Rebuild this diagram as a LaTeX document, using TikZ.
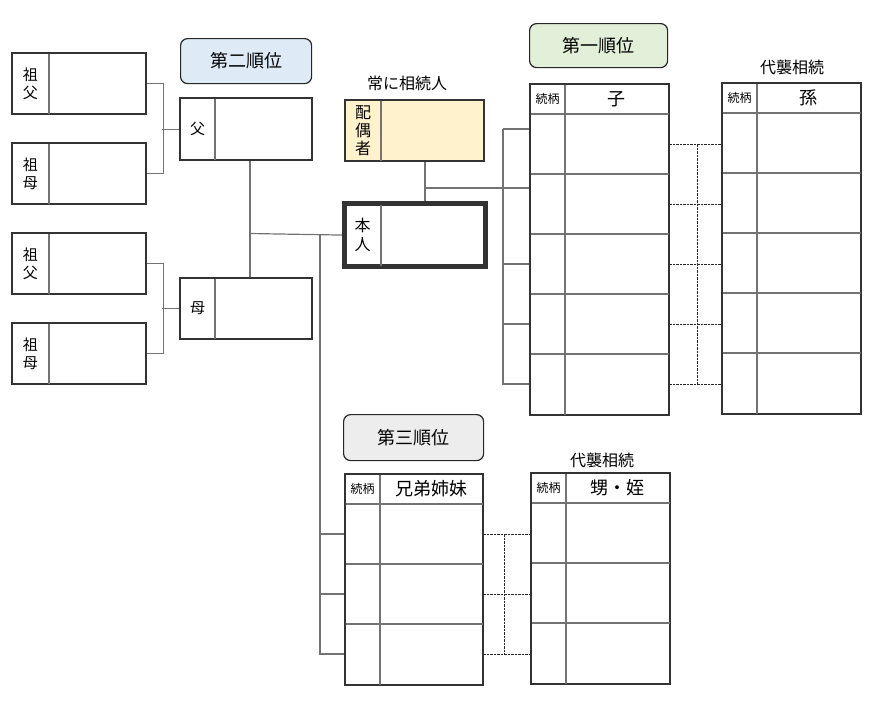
\documentclass[tikz,border=0pt]{standalone}
\usepackage{fontspec}
\setmainfont{Noto Sans CJK JP}
\usetikzlibrary{calc}

\definecolor{ao}{HTML}{DEEBF7}
\definecolor{midori}{HTML}{E2F0D9}
\definecolor{haiiro}{HTML}{EDEDED}
\definecolor{kiiro}{HTML}{FFF2CC}

\tikzset{
  waku/.style={draw=black!80, line width=1.3pt, inner sep=0pt, anchor=north west},
  honwaku/.style={waku, line width=3.2pt},
  sen/.style={draw=black!55, line width=1.2pt},
  tensen/.style={draw=black!85, dash pattern=on 2.5pt off 1pt, line width=1pt},
  juni/.style={draw=black!85, line width=1.2pt, rounded corners=7pt, inner sep=0pt,
    anchor=north west, font=\fontsize{18}{18}\selectfont},
  moji/.style={font=\fontsize{15}{17.5}\selectfont, align=center, inner sep=0pt},
  zokugara/.style={font=\fontsize{12}{12}\selectfont, inner sep=0pt},
  midashi/.style={font=\fontsize{18}{18}\selectfont, inner sep=0pt},
  komidashi/.style={font=\fontsize{16}{16}\selectfont, inner sep=0pt}
}

\begin{document}
\begin{tikzpicture}[x=1pt,y=-1pt]
\useasboundingbox (0,0) rectangle (872,702);

% 順位の見出し
\node[juni, fill=ao, minimum width=131, minimum height=45] (dai2) at (180,38) {第二順位};
\node[juni, fill=midori, minimum width=138, minimum height=44] (dai1) at (529,23) {第一順位};
\node[juni, fill=haiiro, minimum width=140, minimum height=46] (dai3) at (343,414) {第三順位};

% 祖父母
\node[waku, minimum width=133, minimum height=60] (sofu1) at (12,53) {};
\node[waku, minimum width=133, minimum height=60] (sobo1) at (12,143) {};
\node[waku, minimum width=133, minimum height=60] (sofu2) at (12,233) {};
\node[waku, minimum width=133, minimum height=60] (sobo2) at (12,323) {};
\foreach \n/\m in {sofu1/父, sobo1/母, sofu2/父, sobo2/母}{
  \draw[sen] ($(\n.north west)+(37,0)$) -- ($(\n.south west)+(37,0)$);
  \node[moji] (\n-m) at ($(\n.west)+(18.5,0)$) {祖\\\m};
}

% 父母
\node[waku, minimum width=131, minimum height=61] (chichi) at (180,98) {};
\node[waku, minimum width=131, minimum height=60] (haha) at (180,278) {};
\foreach \n/\m in {chichi/父, haha/母}{
  \draw[sen] ($(\n.north west)+(35,0)$) -- ($(\n.south west)+(35,0)$);
  \node[moji] (\n-m) at ($(\n.west)+(17.5,0)$) {\m};
}

% 配偶者・本人
\node[komidashi] (tsune) at (407,83) {常に相続人};
\node[waku, fill=kiiro, minimum width=138, minimum height=60] (haigu) at (345,100) {};
\draw[sen] ($(haigu.north west)+(36,0)$) -- ($(haigu.south west)+(36,0)$);
\node[moji, font=\fontsize{16}{18}\selectfont] (haigu-m) at ($(haigu.west)+(18,0)$) {配\\偶\\者};
\node[honwaku, minimum width=139, minimum height=61] (honnin) at (344,203) {};
\draw[sen] ($(honnin.north west)+(37,0)$) -- ($(honnin.south west)+(37,0)$);
\node[moji, font=\fontsize{16}{19}\selectfont] (honnin-m) at ($(honnin.west)+(18.5,0)$) {本\\人};

% 表
\node[komidashi] (daishu1) at (792,67) {代襲相続};
\node[komidashi] (daishu2) at (602,460) {代襲相続};
\node[waku, minimum width=138, minimum height=330] (ko) at (530,84) {};
\node[waku, minimum width=138, minimum height=330] (mago) at (722,83) {};
\node[waku, minimum width=137, minimum height=210] (kyodai) at (345,474) {};
\node[waku, minimum width=138, minimum height=210] (oi) at (531,473) {};
\foreach \t/\n/\h in {ko/5/子, mago/5/孫, kyodai/3/兄弟姉妹, oi/3/甥・姪}{
  \draw[sen] ($(\t.north west)+(35,0)$) -- ($(\t.south west)+(35,0)$);
  \foreach \i in {0,...,\numexpr\n-1\relax}
    \draw[sen] ($(\t.north west)+(0,{30+60*\i})$) -- ($(\t.north east)+(0,{30+60*\i})$);
  \foreach \i in {1,...,\n}
    \coordinate (\t-\i) at ($(\t.north west)+(0,{30+60*(\i-0.5)})$);
  \node[zokugara] (\t-z) at ($(\t.north west)+(17.5,15)$) {続柄};
  \node[midashi] (\t-h) at ($(\t.north west)+(86.5,15)$) {\h};
}

% 祖父母から父母へ
\draw[sen] (sofu1.east) -- ++(17,0) |- (sobo1.east);
\draw[sen] (chichi.west) -- ++(-18,0);
\draw[sen] (sofu2.east) -- ++(17,0) |- (sobo2.east);
\draw[sen] (haha.west) -- ++(-18,0);

% 父母から本人・兄弟へ
\coordinate (bunki) at (250,233.5);
\coordinate (kyo) at (320,233.5);
\draw[sen] (chichi.south -| bunki) -- (haha.north -| bunki);
\draw[sen] (bunki) -- (honnin.west);
\draw[sen] (kyo) |- (kyodai-3);
\foreach \i in {1,2}
  \draw[sen] (kyo |- kyodai-\i) -- (kyodai-\i);

% 配偶者・本人から子へ
\coordinate (fufu) at (425,188);
\coordinate (kohashi) at (503,129);
\draw[sen] (haigu.south -| fufu) -- (honnin.north -| fufu);
\draw[sen] (fufu) -- (ko.west |- fufu);
\draw[sen] (kohashi) -- (kohashi |- ko-5) -- (ko-5);
\draw[sen] (kohashi) -- (ko.west |- kohashi);
\foreach \i in {3,4}
  \draw[sen] (kohashi |- ko-\i) -- (ko-\i);

% 代襲相続の点線
\foreach \i in {1,...,5}
  \draw[tensen] (ko.east |- ko-\i) -- (mago.west |- ko-\i);
\draw[tensen] ($(ko.east |- ko-1)+(28,0)$) -- ($(ko.east |- ko-5)+(28,0)$);
\foreach \i in {1,...,3}
  \draw[tensen] (kyodai.east |- kyodai-\i) -- (oi.west |- kyodai-\i);
\draw[tensen] ($(kyodai.east |- kyodai-1)+(21,0)$) -- ($(kyodai.east |- kyodai-3)+(21,0)$);

% 枠の上書き
\foreach \n in {sofu1, sobo1, sofu2, sobo2, chichi, haha, haigu, ko, mago, kyodai, oi}
  \draw[draw=black!80, line width=1.3pt] (\n.north west) rectangle (\n.south east);
\draw[draw=black!80, line width=3.2pt] (honnin.north west) rectangle (honnin.south east);
\end{tikzpicture}
\end{document}
